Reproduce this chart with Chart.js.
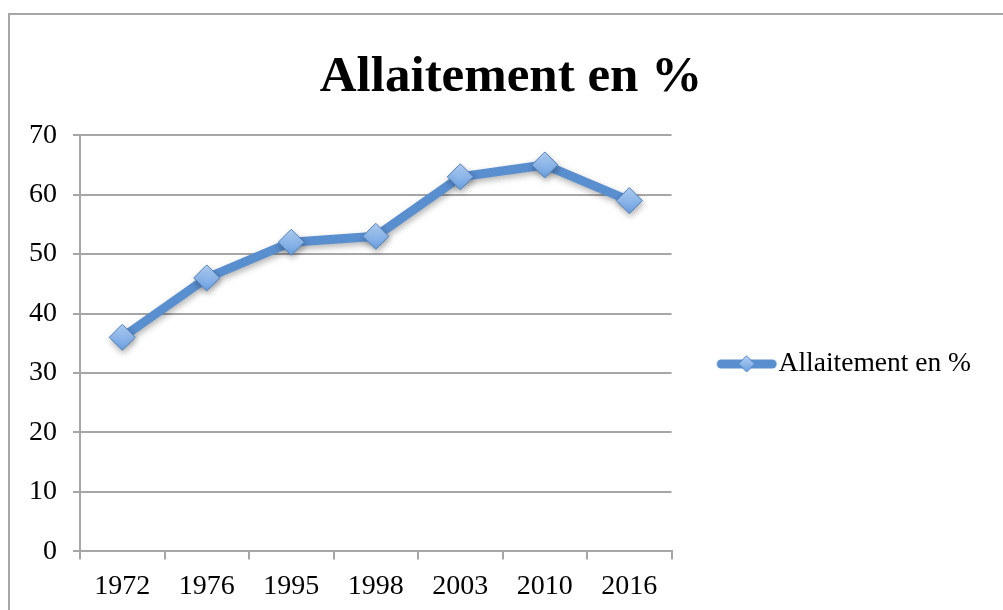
<!DOCTYPE html>
<html>
<head>
<meta charset="utf-8">
<script src="https://cdn.jsdelivr.net/npm/chart.js@4.4.0/dist/chart.umd.min.js"></script>
<style>
  html, body { margin: 0; padding: 0; background: #fff; }
  #frame { position: absolute; left: 8px; top: 13px; width: 1100px; height: 700px; border: 2px solid #a6a6a6; }
  #wrap { position: absolute; left: 0; top: 0; width: 1003px; height: 610px; }
</style>
</head>
<body>
<div id="frame"></div>
<div id="wrap"><canvas id="chart"></canvas></div>
<script>
const years = ['1972', '1976', '1995', '1998', '2003', '2010', '2016'];
const allaitement = [36, 46, 52, 53, 63, 65, 59];
const seriesLabel = 'Allaitement en %';
const chartTitle = 'Allaitement en %';

const lineColor = '#598ecf';
const serif = "'Liberation Serif', 'DejaVu Serif', serif";

function diamondFill(ctx, y, r) {
  const g = ctx.createLinearGradient(0, y - r, 0, y + r);
  g.addColorStop(0, '#b3d1f7');
  g.addColorStop(1, '#6a9fe0');
  return g;
}

// legend sample: line with a diamond in the middle
const legendIcon = document.createElement('canvas');
legendIcon.width = 98;
legendIcon.height = 24;
(function () {
  const c = legendIcon.getContext('2d');
  c.strokeStyle = lineColor;
  c.lineWidth = 9;
  c.lineCap = 'round';
  c.beginPath();
  c.moveTo(37, 12);
  c.lineTo(88, 12);
  c.stroke();
  c.fillStyle = diamondFill(c, 12, 8);
  c.strokeStyle = '#4f81bd';
  c.lineWidth = 1;
  c.beginPath();
  c.moveTo(62.5, 4); c.lineTo(70.5, 12); c.lineTo(62.5, 20); c.lineTo(54.5, 12); c.closePath();
  c.fill();
  c.stroke();
})();

const shadowPlugin = {
  id: 'shadow',
  beforeDatasetsDraw(chart) {
    const ctx = chart.ctx;
    ctx.save();
    ctx.shadowColor = 'rgba(0,0,0,0.3)';
    ctx.shadowBlur = 6;
    ctx.shadowOffsetX = 1;
    ctx.shadowOffsetY = 3;
  },
  afterDatasetsDraw(chart) {
    chart.ctx.restore();
  }
};

new Chart(document.getElementById('chart'), {
  type: 'line',
  data: {
    labels: years,
    datasets: [{
      label: seriesLabel,
      data: allaitement,
      borderColor: lineColor,
      borderWidth: 9,
      tension: 0,
      fill: false,
      pointStyle: 'rectRot',
      pointRadius: 13,
      pointHoverRadius: 13,
      pointBorderColor: '#4f81bd',
      pointBorderWidth: 1,
      pointBackgroundColor: (c) => {
        if (c.type !== 'data') return '#8cb4e8';
        const y = c.chart.scales.y ? c.chart.scales.y.getPixelForValue(c.parsed.y) : NaN;
        if (!isFinite(y)) return '#8cb4e8';
        return diamondFill(c.chart.ctx, y, 13);
      }
    }]
  },
  plugins: [shadowPlugin],
  options: {
    responsive: true,
    maintainAspectRatio: false,
    animation: false,
    layout: { padding: { left: 41, right: 22, top: 0, bottom: -3 } },
    plugins: {
      title: {
        display: true,
        text: chartTitle,
        color: '#000',
        font: { family: serif, size: 51, weight: 'bold' },
        padding: { top: 47, bottom: 27 }
      },
      legend: {
        position: 'right',
        maxWidth: 400,
        title: { display: true, text: '', font: { size: 10 }, padding: { top: 0, bottom: 103 } },
        labels: {
          usePointStyle: true,
          pointStyleWidth: 63.25,
          color: '#000',
          font: { family: serif, size: 27.5 },
          padding: 30,
          generateLabels: (chart) => chart.data.datasets.map((ds, i) => ({
            text: ds.label,
            pointStyle: legendIcon,
            fillStyle: lineColor,
            strokeStyle: lineColor,
            fontColor: '#000',
            lineWidth: 0,
            datasetIndex: i
          }))
        }
      },
      tooltip: { enabled: false }
    },
    scales: {
      x: {
        offset: true,
        grid: { offset: true, drawOnChartArea: false, color: '#a6a6a6', lineWidth: 2, tickLength: 8 },
        border: { color: '#a6a6a6', width: 2 },
        ticks: { color: '#000', font: { family: serif, size: 28 }, padding: 10, maxRotation: 0 }
      },
      y: {
        min: 0,
        max: 70,
        afterFit: (s) => { s.width = 39; },
        grid: { color: '#a6a6a6', lineWidth: 2, tickLength: 7 },
        border: { color: '#a6a6a6', width: 2 },
        // mirrored + negative padding puts the labels back left of the axis without clipping
        ticks: { stepSize: 10, color: '#000', font: { family: serif, size: 28 }, mirror: true, crossAlign: 'far', padding: -51 }
      }
    }
  }
});
</script>
</body>
</html>
